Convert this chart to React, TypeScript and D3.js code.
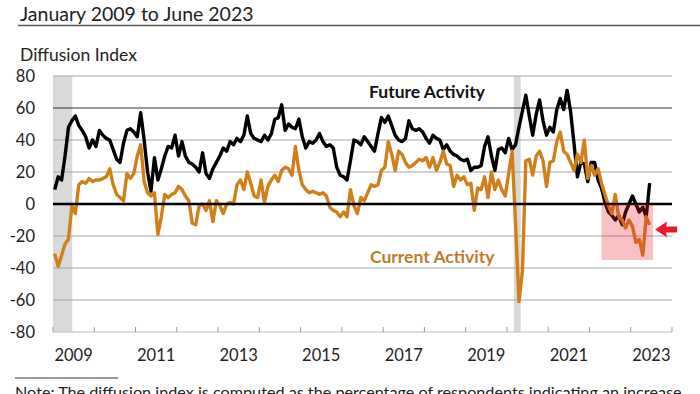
import React from "react";
import * as d3 from "d3";

// monthly diffusion index, Jan 2009 .. Jun 2023
const future = [
  9, 17, 15, 30, 48, 52, 55, 49, 46, 42,
  35, 40, 36, 46, 43, 41, 40, 34, 28, 26,
  38, 46, 47, 45, 42, 57, 40, 20, 8, 29,
  15, 22, 30, 36, 35, 43, 30, 39, 30, 26,
  25, 23, 20, 32, 19, 16, 22, 26, 30, 35,
  33, 39, 37, 41, 39, 43, 55, 44, 41, 40,
  39, 43, 40, 44, 53, 54, 62, 46, 50, 48,
  47, 53, 42, 35, 39, 38, 40, 44, 39, 36,
  37, 35, 23, 18, 17, 15, 27, 40, 39, 37,
  42, 39, 36, 33, 44, 54, 51, 55, 49, 43,
  40, 39, 41, 52, 47, 46, 47, 45, 41, 38,
  43, 41, 40, 34, 37, 33, 31, 30, 28, 27,
  28, 21, 23, 23, 24, 36, 42, 30, 21, 34,
  35, 32, 41, 34, 37, 48, 58, 68, 55, 43,
  56, 65, 52, 43, 48, 45, 59, 66, 59, 71,
  58, 38, 17, 26, 25, 14, 26, 26, 15, 10,
  1, -5, -7, -10, -7, -13, -5, 0, 5, 0,
  -5, -2, -8, 13,
];

const current = [
  -31, -39, -32, -25, -22, -1, -6, 12, 14, 13,
  16, 14, 15, 15, 16, 17, 22, 12, 6, 4,
  2, 19, 16, 19, 30, 37, 14, 7, 5, 7,
  -19, -8, 6, 4, 6, 7, 11, 9, 5, 2,
  -12, -13, -1, 0, -4, 2, -11, 2, -1, -6,
  0, 1, 0, 12, 15, 9, 20, 13, 5, 4,
  15, 1, 11, 15, 18, 14, 21, 23, 22, 18,
  36, 21, 12, 9, 7, 8, 7, 6, 7, 5,
  -2, -4, -5, -8, -5, -8, 9, -1, -6, 4,
  2, 7, 12, 11, 12, 21, 23, 39, 31, 21,
  33, 31, 26, 23, 24, 26, 28, 27, 29, 23,
  29, 21, 26, 33, 25, 24, 11, 18, 15, 17,
  12, 13, -4, 10, 9, 17, 4, 20, 9, 15,
  9, 5, 19, 33, -12, -61, -42, 27, 28, 18,
  30, 33, 27, 11, 26, 27, 39, 45, 33, 31,
  26, 21, 31, 26, 40, 16, 24, 18, 22, 13,
  6, -1, -6, 6, -8, -10, -15, -10, -14, -24,
  -22, -32, -8, -13,
];

const yTicks = [80, 60, 40, 20, 0, -20, -40, -60, -80];
const yearLabels = ["2009", "2011", "2013", "2015", "2017", "2019", "2021", "2023"];
const axisMonths = 180; // Jan 2009 .. Dec 2023
// recessions as [first month, month after last] from Jan 2009
const recessions = [
  [0, 5.6],
  [134, 136],
];
const highlight = { from: 159.5, to: 174.5, low: -35 };
const arrowAt = -16;

const font = "Lato, 'Open Sans', sans-serif";

export default function App() {
  const width = 700;
  const height = 394;
  const x = d3.scaleLinear().domain([0, axisMonths]).range([53, 672]);
  const y = d3.scaleLinear().domain([-80, 80]).range([332, 76]);

  const lineGen = d3
    .line<number>()
    .x((d, i) => x(i + 0.5))
    .y((d) => y(d));

  const yearTicks = d3.range(0, axisMonths + 1, 12);
  const ay = y(arrowAt);
  const ax = x(highlight.to) + 2;

  return (
    <svg
      width={width}
      height={height}
      style={{ position: "absolute", left: 0, top: 0, background: "#fff" }}
      fontFamily={font}
    >
      {/* title */}
      <text x={20} y={21} fontSize={19.5} fill="#222">
        January 2009 to June 2023
      </text>
      <line x1={18} x2={700} y1={25.5} y2={25.5} stroke="#555" strokeWidth={1.5} />
      <text x={20} y={61} fontSize={17.5} fill="#222">
        Diffusion Index
      </text>

      {/* recession shading */}
      {recessions.map(([a, b], i) => (
        <rect key={i} x={x(a)} width={x(b) - x(a)} y={y(80)} height={y(-80) - y(80)} fill="#d9d9d9" />
      ))}

      {/* grid */}
      {yTicks
        .filter((t) => t !== 0 && t !== -80)
        .map((t) => (
          <line
            key={t}
            x1={x(0)}
            x2={x(axisMonths)}
            y1={y(t)}
            y2={y(t)}
            stroke={t === 60 ? "#333" : "#a6a6a6"}
            strokeWidth={1}
          />
        ))}
      <line x1={x(0)} x2={x(axisMonths)} y1={y(-80)} y2={y(-80)} stroke="#bfbfbf" strokeWidth={1} />
      {yearTicks.map((m) => (
        <line key={m} x1={x(m)} x2={x(m)} y1={y(-80)} y2={y(-80) - 5} stroke="#999" />
      ))}

      {yTicks.map((t) => (
        <text key={t} x={35} y={y(t) + 6} textAnchor="end" fontSize={16.5} fill="#222">
          {t}
        </text>
      ))}
      {yearLabels.map((lab, i) => (
        <text key={lab} x={x(i * 24 + 6)} y={361} textAnchor="middle" fontSize={16.5} fill="#222">
          {lab}
        </text>
      ))}

      {/* series */}
      <path d={lineGen(future) ?? ""} fill="none" stroke="#000" strokeWidth={3.4} strokeLinejoin="round" />
      <path d={lineGen(current) ?? ""} fill="none" stroke="#d18019" strokeWidth={3.4} strokeLinejoin="round" />

      <line x1={x(0)} x2={x(axisMonths)} y1={y(0)} y2={y(0)} stroke="#000" strokeWidth={2.5} />

      {/* highlight */}
      <rect
        x={x(highlight.from)}
        width={x(highlight.to) - x(highlight.from)}
        y={y(0)}
        height={y(highlight.low) - y(0)}
        fill="#e8202a"
        opacity={0.28}
      />
      <path
        d={`M${ax},${ay} L${ax + 12},${ay - 8} L${ax + 11},${ay - 3} L${ax + 22},${ay - 3} L${ax + 22},${ay + 3} L${ax + 11},${ay + 3} L${ax + 12},${ay + 8} Z`}
        fill="#e8192c"
      />

      <text x={369} y={98} fontSize={17.5} fontWeight="bold" fill="#111">
        Future Activity
      </text>
      <text x={370} y={263} fontSize={17.5} fontWeight="bold" fill="#bf7a2c">
        Current Activity
      </text>

      {/* note */}
      <line x1={15} x2={118} y1={378} y2={378} stroke="#333" strokeWidth={1} />
      <text x={15} y={398} fontSize={16.2} fill="#222">
        Note: The diffusion index is computed as the percentage of respondents indicating an increase
      </text>
    </svg>
  );
}
